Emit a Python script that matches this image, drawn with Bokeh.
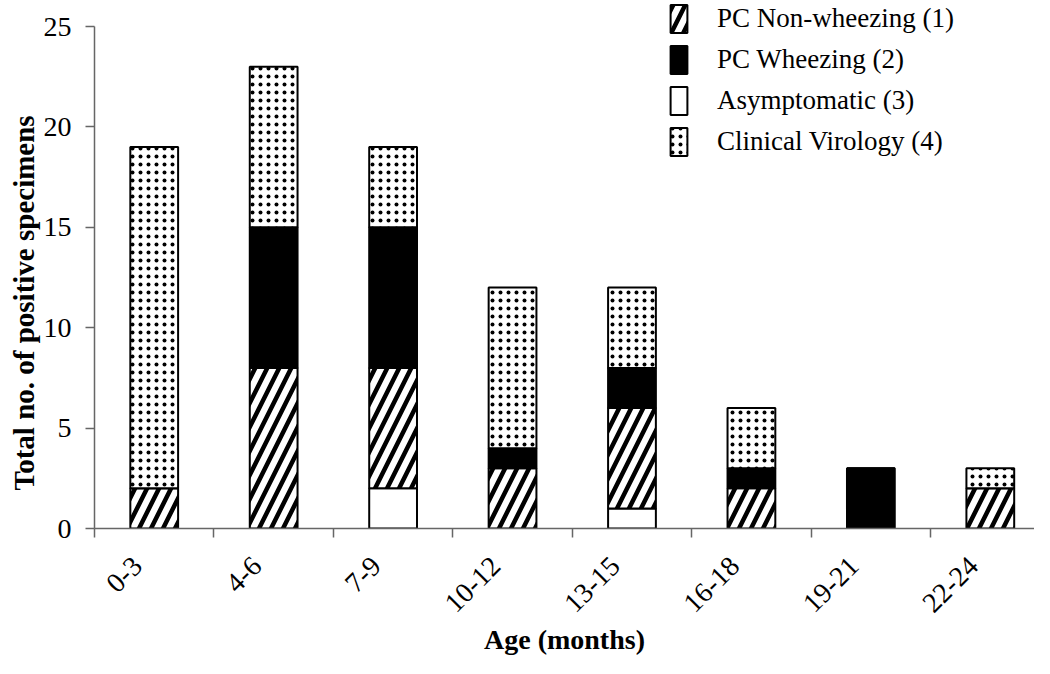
import math
from bokeh.plotting import figure
from bokeh.models import (ColumnDataSource, Range1d, FixedTicker, Title,
                          CustomJSTickFormatter, Legend, LegendItem)
from bokeh.embed import file_html
from bokeh.resources import INLINE

ages = ["0-3", "4-6", "7-9", "10-12", "13-15", "16-18", "19-21", "22-24"]
asymptomatic = [0, 0, 2, 0, 1, 0, 0, 0]
pc_non_wheezing = [2, 8, 6, 3, 5, 2, 0, 2]
pc_wheezing = [0, 7, 7, 1, 2, 1, 3, 0]
clinical_virology = [17, 8, 4, 8, 4, 3, 0, 1]
y_ticks = [0, 5, 10, 15, 20, 25]

FONT = "Liberation Serif"

# category slot centres (index-based) so that ticks can sit between categories
slot = [i + 0.5 for i in range(len(ages))]
source = ColumnDataSource(data=dict(age=ages, slot=slot, asym=asymptomatic, nonw=pc_non_wheezing,
                                    wheez=pc_wheezing, clin=clinical_virology))

p = figure(width=1034, height=658, x_range=Range1d(0, 7.87),
           y_range=Range1d(0, 26.3), output_backend="svg", toolbar_location=None,
           min_border_left=94, min_border_right=0,
           min_border_top=0, min_border_bottom=130)
p.outline_line_color = None
p.xgrid.visible = False
p.ygrid.visible = False

stackers = ["asym", "nonw", "wheez", "clin"]
rs = p.vbar_stack(stackers, x="slot", width=0.4, source=source,
                  fill_color=["white", "white", "black", "white"],
                  hatch_pattern=[" ", "/", " ", "."],
                  hatch_color="black",
                  hatch_weight=[1, 4.5, 1, 1],
                  hatch_scale=[24, 24, 24, 8],
                  line_color="black", line_width=2)

# label anchors sit a little left of the slot centre, like the rotated labels of the original
label_pos = [i + 0.36 for i in range(len(ages))]
xaxis = p.xaxis[0]
xaxis.ticker = FixedTicker(ticks=label_pos, minor_ticks=list(range(0, len(ages))))
xaxis.formatter = CustomJSTickFormatter(args=dict(labels=ages),
                                        code="return labels[Math.floor(tick)];")
xaxis.axis_label = "Age (months)"
xaxis.major_tick_out = 0
xaxis.major_tick_in = 0
xaxis.minor_tick_out = 9
xaxis.minor_tick_in = 0
xaxis.major_label_orientation = math.pi / 4
xaxis.major_label_standoff = 24
xaxis.major_label_text_font = FONT
xaxis.major_label_text_font_size = "28px"
xaxis.major_label_text_color = "black"
xaxis.axis_label_text_font = FONT
xaxis.axis_label_text_font_size = "28px"
xaxis.axis_label_text_font_style = "bold"
xaxis.axis_label_text_color = "black"
xaxis.axis_label_standoff = 1
xaxis.axis_line_color = "#666666"
xaxis.axis_line_width = 1.5
xaxis.minor_tick_line_color = "#666666"
xaxis.minor_tick_line_width = 1.5

yaxis = p.yaxis[0]
yaxis.ticker = FixedTicker(ticks=y_ticks)
yaxis.bounds = (0, 25)
yaxis.major_tick_out = 9
yaxis.major_tick_in = 0
yaxis.minor_tick_line_color = None
yaxis.major_label_standoff = 14
yaxis.major_label_text_font = FONT
yaxis.major_label_text_font_size = "28px"
yaxis.major_label_text_color = "black"
yaxis.axis_line_color = "#666666"
yaxis.axis_line_width = 1.5
yaxis.major_tick_line_color = "#666666"
yaxis.major_tick_line_width = 1.5

ytitle = Title(text="Total no. of positive specimens", align="left", offset=38,
               text_font=FONT, text_font_size="29px", text_font_style="bold",
               text_color="black", standoff=2)
p.add_layout(ytitle, "left")

r_asym, r_nonw, r_wheez, r_clin = rs
legend = Legend(items=[
    LegendItem(label="PC Non-wheezing (1)", renderers=[r_nonw]),
    LegendItem(label="PC Wheezing (2)", renderers=[r_wheez]),
    LegendItem(label="Asymptomatic (3)", renderers=[r_asym]),
    LegendItem(label="Clinical Virology (4)", renderers=[r_clin]),
], location=(574, 369))
legend.glyph_width = 21
legend.glyph_height = 35
legend.label_height = 35
legend.spacing = 6
legend.padding = 0
legend.margin = 0
legend.label_standoff = 28
legend.label_text_font = FONT
legend.label_text_font_size = "27px"
legend.label_text_color = "black"
legend.border_line_color = None
legend.background_fill_alpha = 0
p.add_layout(legend, "center")

open("out.html", "w").write(file_html(p, INLINE))
